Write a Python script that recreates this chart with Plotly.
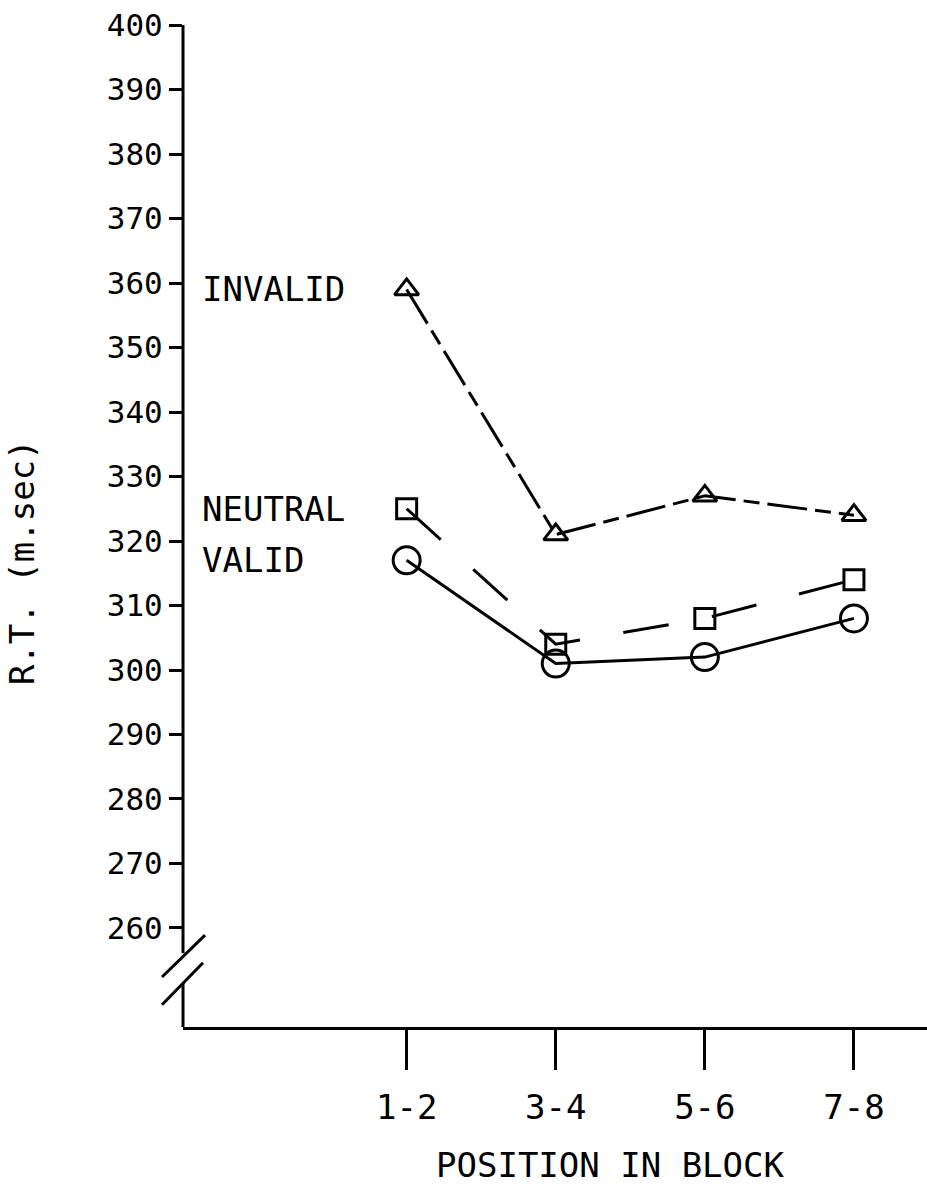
import plotly.graph_objects as go

# ---- data ----
positions = ["1-2", "3-4", "5-6", "7-8"]
invalid_rt = [359, 321, 327, 324]
neutral_rt = [325, 304, 308, 314]
valid_rt = [317, 301, 302, 308]
series_labels = ["INVALID", "NEUTRAL", "VALID"]
y_tick_values = list(range(260, 401, 10))
x_title = "POSITION IN BLOCK"
y_title = "R.T. (m.sec)"

FONT = "DejaVu Sans Mono"
INK = "black"
Y_MIN, Y_MAX = 244.65, 400
BREAK_TOP, BREAK_BOTTOM = 256.1, 251.5

fig = go.Figure()

fig.add_trace(go.Scatter(
    x=positions, y=invalid_rt, mode="lines+markers", name=series_labels[0],
    line=dict(color=INK, width=3, dash="40px,8px,16px,8px"),
    marker=dict(symbol="triangle-up-open", size=21, color=INK, line=dict(width=3, color=INK)),
))
fig.add_trace(go.Scatter(
    x=positions, y=neutral_rt, mode="lines+markers", name=series_labels[1],
    line=dict(color=INK, width=3, dash="46px,44px"),
    marker=dict(symbol="square-open", size=20, color=INK, line=dict(width=3, color=INK)),
))
fig.add_trace(go.Scatter(
    x=positions, y=valid_rt, mode="lines+markers", name=series_labels[2],
    line=dict(color=INK, width=3),
    marker=dict(symbol="circle-open", size=27, color=INK, line=dict(width=3, color=INK)),
))

# series labels next to the first points
for label, series in zip(series_labels, [invalid_rt, neutral_rt, valid_rt]):
    fig.add_annotation(x=0.023, xref="paper", y=series[0], yref="y",
                       text=label, showarrow=False, xanchor="left", yanchor="middle",
                       font=dict(family=FONT, size=34, color=INK))

# axis titles
fig.add_annotation(x=0.574, xref="paper", y=-0.1377, yref="paper", text=x_title,
                   showarrow=False, xanchor="center", yanchor="middle",
                   font=dict(family=FONT, size=34, color=INK))
fig.add_annotation(x=-0.2164, xref="paper", y=0.464, yref="paper", text=y_title,
                   textangle=-90, showarrow=False, xanchor="center", yanchor="middle",
                   font=dict(family=FONT, size=34, color=INK))

# broken y axis line with the break marks
shapes = [
    dict(type="line", xref="paper", yref="y", x0=0, x1=0, y0=BREAK_TOP, y1=Y_MAX,
         line=dict(color=INK, width=3)),
    dict(type="line", xref="paper", yref="y", x0=0, x1=0, y0=Y_MIN, y1=BREAK_BOTTOM,
         line=dict(color=INK, width=3)),
    dict(type="line", xref="paper", yref="y", x0=-0.0282, x1=0.0296, y0=252.4, y1=258.9,
         line=dict(color=INK, width=3)),
    dict(type="line", xref="paper", yref="y", x0=-0.0282, x1=0.0269, y0=248.1, y1=254.6,
         line=dict(color=INK, width=3)),
]

fig.update_layout(
    width=927, height=1187,
    margin=dict(l=183, r=0, t=25, b=160),
    plot_bgcolor="white", paper_bgcolor="white",
    showlegend=False,
    font=dict(family=FONT, color=INK),
    shapes=shapes,
)
fig.update_xaxes(
    type="category", range=[-1.5, 3.49],
    showline=True, linecolor=INK, linewidth=3,
    ticks="outside", ticklen=40, tickwidth=2.5, tickcolor=INK,
    showgrid=False, zeroline=False,
    ticklabelstandoff=8,
    tickfont=dict(family=FONT, size=34, color=INK),
)
fig.update_yaxes(
    range=[Y_MIN, Y_MAX], tickvals=y_tick_values,
    showline=False, ticks="outside", ticklen=13, tickwidth=2.5, tickcolor=INK,
    showgrid=False, zeroline=False,
    tickfont=dict(family=FONT, size=31, color=INK),
)

fig.write_html("out.html", config={"displayModeBar": False},
               post_script="document.body.style.margin='0';")
